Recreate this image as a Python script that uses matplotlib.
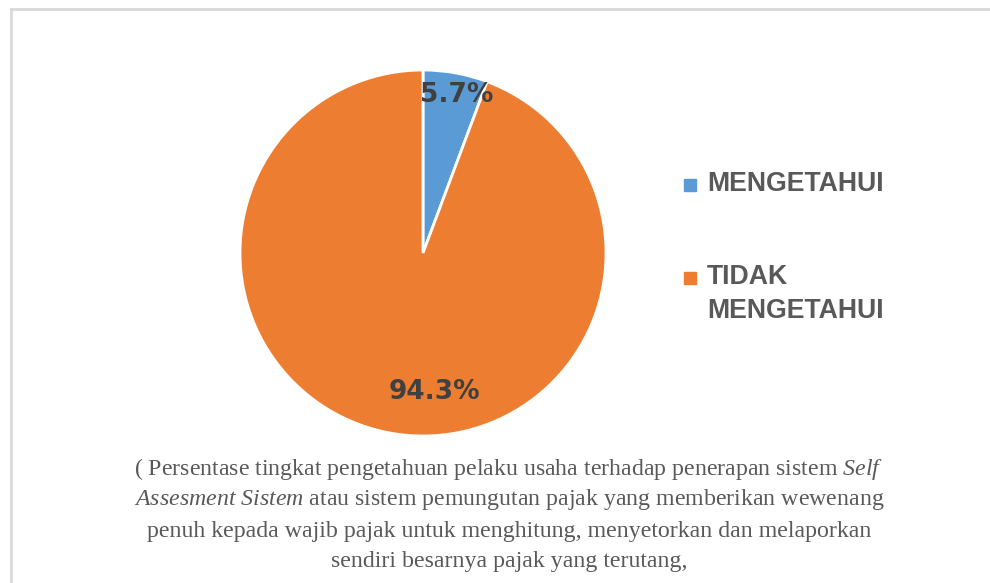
import matplotlib.pyplot as plt
from matplotlib.lines import Line2D
from matplotlib.patches import Rectangle

# data
kategori = ["MENGETAHUI", "TIDAK\nMENGETAHUI"]
persen = [5.7, 94.3]
warna = ["#5B9BD5", "#ED7D31"]
caption = [
    r"( Persentase tingkat pengetahuan pelaku usaha terhadap penerapan sistem $\mathit{Self}$",
    r"$\mathit{Assesment\ Sistem}$ atau sistem pemungutan pajak yang memberikan wewenang",
    "penuh kepada wajib pajak untuk menghitung, menyetorkan dan melaporkan",
    "sendiri besarnya pajak yang terutang,",
]

plt.rcParams["mathtext.fontset"] = "custom"
plt.rcParams["mathtext.it"] = "Liberation Serif:italic"
plt.rcParams["mathtext.rm"] = "Liberation Serif"

W, H = 990, 583
fig = plt.figure(figsize=(W / 100, H / 100), dpi=100)

# frame (top and left only)
fig.add_artist(Line2D([11 / W, 1], [1 - 9 / H, 1 - 9 / H], color="#D9D9D9", lw=2))
fig.add_artist(Line2D([11 / W, 11 / W], [0, 1 - 9 / H], color="#D9D9D9", lw=2))

# pie
cx, cy, r = 423, 253, 183
ax = fig.add_axes([(cx - r) / W, 1 - (cy + r) / H, 2 * r / W, 2 * r / H])
wedges, teks, autoteks = ax.pie(
    persen, colors=warna, startangle=90, counterclock=False,
    autopct="%.1f%%", pctdistance=0.88,
    wedgeprops=dict(edgecolor="white", linewidth=2),
    textprops=dict(color="#404040", fontsize=19, fontweight="bold"),
)
x0, y0 = autoteks[0].get_position()
autoteks[0].set_position((x0 + 0.03, y0))
autoteks[1].set_position((0.065, -0.76))
ax.set_aspect("equal")
ax.set_xlim(-1.0, 1.0)
ax.set_ylim(-1.0, 1.0)

# legend
y_leg = [185, 278]
for lab, c, y in zip(kategori, warna, y_leg):
    fig.add_artist(Rectangle(((684) / W, 1 - (y + 6) / H), 12 / W, 12 / H,
                             transform=fig.transFigure, color=c))
    fig.text(707 / W, 1 - (y - 14) / H, lab, ha="left", va="top",
             fontsize=19.2, fontweight="bold", color="#595959",
             family="Liberation Sans", linespacing=1.4)

# caption
for i, baris in enumerate(caption):
    fig.text(509 / W, 1 - (469 + 31 * i) / H, baris, ha="center", va="center",
             fontsize=17.2, color="#595959", family="Liberation Serif")

fig.savefig("out.png", dpi=100)
